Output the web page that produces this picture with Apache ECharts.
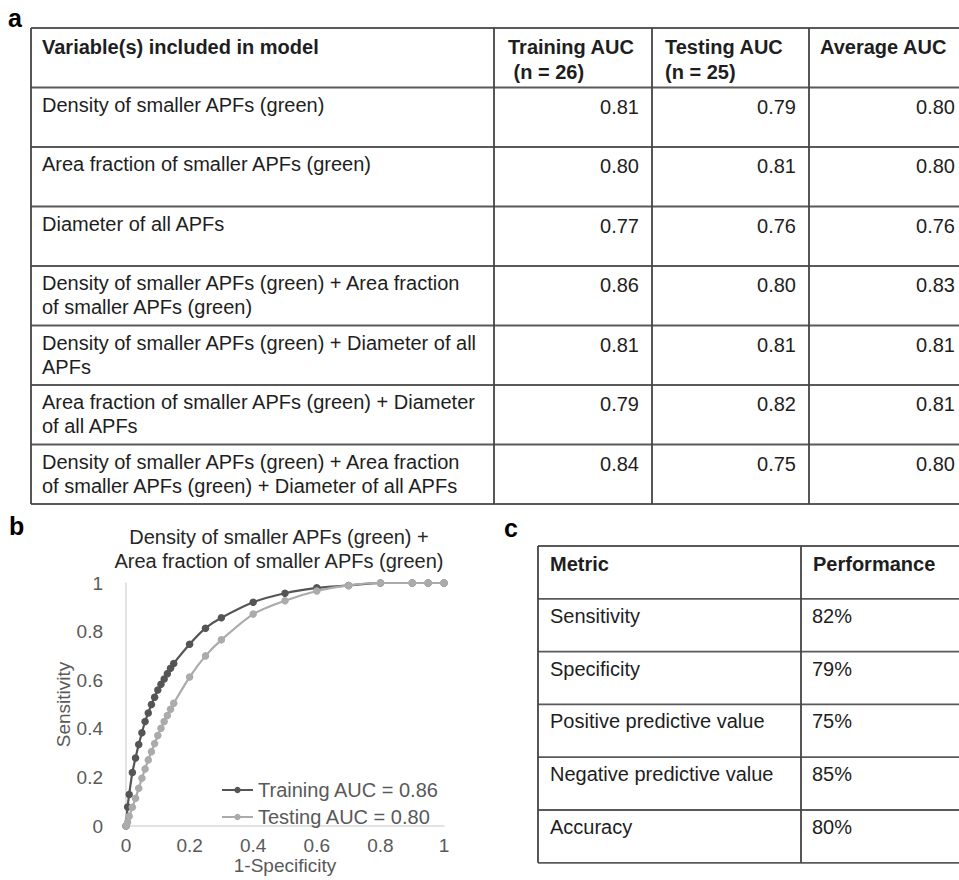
<!DOCTYPE html>
<html>
<head>
<meta charset="utf-8">
<script src="https://cdn.jsdelivr.net/npm/echarts@6/dist/echarts.min.js"></script>
<style>
html,body{margin:0;padding:0;background:#fff;}
#main{width:959px;height:880px;}
</style>
</head>
<body>
<div id="main"></div>
<script>
// ---------- Panel a: table data ----------
const tableAHeaders = ['Variable(s) included in model', 'Training AUC\n (n = 26)', 'Testing AUC\n(n = 25)', 'Average AUC'];
const modelVariables = [
  'Density of smaller APFs (green)',
  'Area fraction of smaller APFs (green)',
  'Diameter of all APFs',
  'Density of smaller APFs (green) + Area fraction\nof smaller APFs (green)',
  'Density of smaller APFs (green) + Diameter of all\nAPFs',
  'Area fraction of smaller APFs (green) + Diameter\nof all APFs',
  'Density of smaller APFs (green) + Area fraction\nof smaller APFs (green) + Diameter of all APFs'
];
const trainingAUC = [0.81, 0.80, 0.77, 0.86, 0.81, 0.79, 0.84];
const testingAUC  = [0.79, 0.81, 0.76, 0.80, 0.81, 0.82, 0.75];
const averageAUC  = [0.80, 0.80, 0.76, 0.83, 0.81, 0.81, 0.80];

// ---------- Panel b: ROC curves ----------
const rocTitle = 'Density of smaller APFs (green) +\nArea fraction of smaller APFs (green)';
const trainingFPR = [0, 0.005, 0.01, 0.02, 0.03, 0.04, 0.05, 0.06, 0.07, 0.08, 0.09, 0.10, 0.11, 0.12, 0.13, 0.14, 0.15, 0.20, 0.25, 0.30, 0.40, 0.50, 0.60, 0.70, 0.80, 0.90, 0.95, 1.00];
const trainingTPR = [0, 0.078, 0.13, 0.22, 0.28, 0.335, 0.384, 0.43, 0.465, 0.50, 0.53, 0.56, 0.583, 0.605, 0.627, 0.649, 0.669, 0.748, 0.814, 0.857, 0.921, 0.958, 0.98, 0.99, 1.00, 1.00, 1.00, 1.00];
const testingFPR = [0, 0.005, 0.01, 0.02, 0.03, 0.04, 0.05, 0.06, 0.07, 0.08, 0.09, 0.10, 0.11, 0.12, 0.13, 0.14, 0.15, 0.20, 0.25, 0.30, 0.40, 0.50, 0.60, 0.70, 0.80, 0.90, 0.95, 1.00];
const testingTPR  = [0, 0.015, 0.04, 0.077, 0.114, 0.155, 0.196, 0.235, 0.272, 0.306, 0.339, 0.372, 0.402, 0.43, 0.455, 0.48, 0.505, 0.613, 0.70, 0.766, 0.872, 0.927, 0.967, 0.99, 1.00, 1.00, 1.00, 1.00];
const seriesNames = ['Training AUC = 0.86', 'Testing AUC = 0.80'];
const xAxisName = '1-Specificity';
const yAxisName = 'Sensitivity';

// ---------- Panel c: table data ----------
const tableCHeaders = ['Metric', 'Performance'];
const metrics = ['Sensitivity', 'Specificity', 'Positive predictive value', 'Negative predictive value', 'Accuracy'];
const performance = ['82%', '79%', '75%', '85%', '80%'];

const panelLetters = ['a', 'b', 'c'];

// ---------- layout ----------
const FONT = 'Liberation Sans, Arial, Helvetica, sans-serif';
const TXT = '#1e1e1e';
const LINE = '#5a5a5a';
const graphics = [];

function hline(x1, x2, y, w) {
  graphics.push({type: 'line', silent: true, shape: {x1: x1, y1: y, x2: x2, y2: y}, style: {stroke: LINE, lineWidth: w || 1.8}});
}
function vline(x, y1, y2, w) {
  graphics.push({type: 'line', silent: true, shape: {x1: x, y1: y1, x2: x, y2: y2}, style: {stroke: '#444', lineWidth: w || 1.8}});
}
function text(str, x, y, opts) {
  opts = opts || {};
  graphics.push({
    type: 'text', silent: true, x: x, y: y,
    style: {
      text: str, fill: opts.fill || TXT,
      font: (opts.bold ? 'bold ' : '') + (opts.size || 20) + 'px ' + FONT,
      textAlign: opts.align || 'left', align: opts.align || 'left',
      textVerticalAlign: opts.va || 'top', verticalAlign: opts.va || 'top',
      lineHeight: opts.lh || 24
    }
  });
}

// Table a
(function () {
  const left = 31, right = 959, top = 28, rowH = 59.5;
  const colEdges = [31, 494, 652, 809, 968];
  const nRows = modelVariables.length + 1;
  for (let r = 0; r <= nRows; r++) hline(left, right, top + r * rowH);
  for (let c = 0; c < colEdges.length - 1; c++) vline(colEdges[c], top, top + nRows * rowH);
  const padL = [11, 14, 13, 11];
  tableAHeaders.forEach((h, c) => text(h, colEdges[c] + padL[c], top + 6, {bold: true, lh: 25}));
  const valueCols = [trainingAUC, testingAUC, averageAUC];
  modelVariables.forEach((v, i) => {
    const y = top + (i + 1) * rowH;
    text(v, colEdges[0] + 11, y + 5);
    valueCols.forEach((arr, c) => {
      text(arr[i].toFixed(2), colEdges[c + 2] - 13, y + 7, {align: 'right'});
    });
  });
})();

// Table c
(function () {
  const left = 538, right = 959, top = 546, rowH = 52.8;
  const colEdges = [538, 801];
  const nRows = metrics.length + 1;
  for (let r = 0; r <= nRows; r++) hline(left, right, top + r * rowH);
  colEdges.forEach(x => vline(x, top, top + nRows * rowH));
  tableCHeaders.forEach((h, c) => text(h, colEdges[c] + 12, top + 6, {bold: true}));
  metrics.forEach((m, i) => {
    const y = top + (i + 1) * rowH;
    text(m, colEdges[0] + 12, y + 5);
    text(performance[i], colEdges[1] + 11, y + 5);
  });
})();

// Panel letters
text(panelLetters[0], 8, 6, {bold: true, size: 25, fill: '#000'});
text(panelLetters[1], 9, 514, {bold: true, size: 25, fill: '#000'});
text(panelLetters[2], 504, 516, {bold: true, size: 25, fill: '#000'});

const chart = echarts.init(document.getElementById('main'), null, {renderer: 'svg', width: 959, height: 880});
const axisLabelStyle = {color: '#595959', fontSize: 19, fontFamily: FONT};
chart.setOption({
  animation: false,
  backgroundColor: '#fff',
  title: {
    text: rocTitle, left: 274, top: 520, textAlign: 'center',
    textStyle: {fontSize: 20, fontWeight: 'normal', color: '#262626', fontFamily: FONT, lineHeight: 24}
  },
  grid: {left: 126, top: 583, width: 318, height: 243, containLabel: false},
  legend: {
    orient: 'vertical', left: 216, top: 775, itemWidth: 31, itemHeight: 8, itemGap: 7,
    textStyle: {color: '#595959', fontSize: 20, fontFamily: FONT},
    data: seriesNames
  },
  xAxis: {
    type: 'value', min: 0, max: 1, interval: 0.2,
    name: xAxisName, nameLocation: 'middle', nameGap: 30,
    nameTextStyle: {color: '#595959', fontSize: 19, fontFamily: FONT},
    axisLine: {show: true, onZero: false, lineStyle: {color: '#d9d9d9', width: 1.5}},
    axisTick: {show: false}, splitLine: {show: false},
    axisLabel: Object.assign({margin: 10}, axisLabelStyle)
  },
  yAxis: {
    type: 'value', min: 0, max: 1, interval: 0.2,
    name: yAxisName, nameLocation: 'middle', nameGap: 52,
    nameTextStyle: {color: '#595959', fontSize: 19, fontFamily: FONT},
    axisLine: {show: true, onZero: false, lineStyle: {color: '#d9d9d9', width: 1.5}},
    axisTick: {show: false}, splitLine: {show: false},
    axisLabel: Object.assign({margin: 23}, axisLabelStyle)
  },
  series: [
    {
      name: seriesNames[0], type: 'line', smooth: 0.25,
      data: trainingFPR.map((x, i) => [x, trainingTPR[i]]),
      symbol: 'circle', symbolSize: 7.5,
      lineStyle: {color: '#555', width: 2.2}, itemStyle: {color: '#555'}, z: 3
    },
    {
      name: seriesNames[1], type: 'line', smooth: 0.25,
      data: testingFPR.map((x, i) => [x, testingTPR[i]]),
      symbol: 'circle', symbolSize: 7.5,
      lineStyle: {color: '#ababab', width: 2.2}, itemStyle: {color: '#ababab'}, z: 4
    }
  ],
  graphic: graphics
});
</script>
</body>
</html>
